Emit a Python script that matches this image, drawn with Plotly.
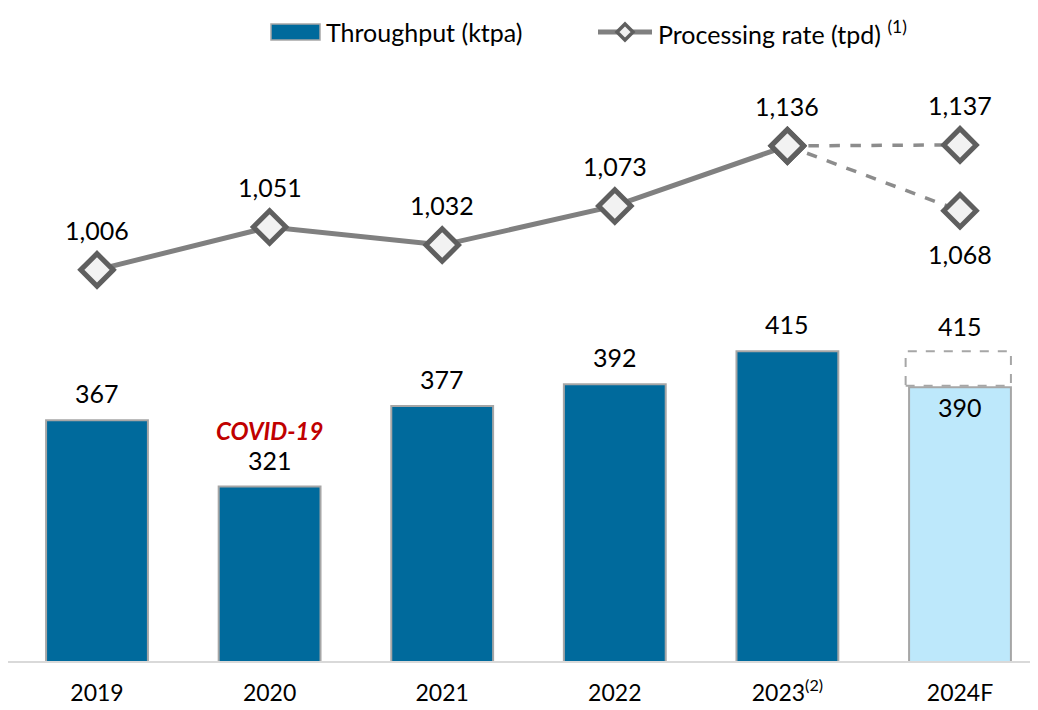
import plotly.graph_objects as go

years = ["2019", "2020", "2021", "2022", "2023<sup>(2)</sup>", "2024F"]
throughput = [367, 321, 377, 392, 415]
throughput_2024_base = 390
throughput_2024_high = 415
rate = [1006, 1051, 1032, 1073, 1136]
rate_2024_high = 1137
rate_2024_low = 1068

FONT = "Lato"
BAR_DARK = "#006a9c"
BAR_LIGHT = "#bde8fb"
BAR_EDGE = "#a6a6a6"
LINE_C = "#808080"
MK_EDGE = "#5f5f5f"
bar_w = 0.59
idx = list(range(len(years)))

fig = go.Figure()

fig.add_trace(go.Bar(
    x=idx, y=throughput + [throughput_2024_base],
    marker=dict(color=[BAR_DARK] * 5 + [BAR_LIGHT], line=dict(color=BAR_EDGE, width=2)),
    width=bar_w, name="Throughput (ktpa)", yaxis="y", showlegend=False,
))

mk = dict(symbol="diamond", size=25, color="#f2f2f2", line=dict(color=MK_EDGE, width=5))
fig.add_trace(go.Scatter(
    x=idx[:5], y=rate, mode="lines+markers", yaxis="y2",
    line=dict(color=LINE_C, width=5), marker=mk, showlegend=False,
))
for v in (rate_2024_high, rate_2024_low):
    fig.add_trace(go.Scatter(
        x=[idx[4], idx[5]], y=[rate[4], v], mode="lines", yaxis="y2",
        line=dict(color="#8c8c8c", width=3.5, dash="dash"), showlegend=False,
    ))
    fig.add_trace(go.Scatter(
        x=[idx[5]], y=[v], mode="markers", yaxis="y2", marker=mk, showlegend=False,
    ))
fig.add_trace(go.Scatter(
    x=[idx[4]], y=[rate[4]], mode="markers", yaxis="y2", marker=mk, showlegend=False,
))

# dashed box for the upper 2024F forecast
fig.add_shape(type="rect", xref="x", yref="y",
              x0=5 - bar_w / 2 - 0.02, x1=5 + bar_w / 2, y0=throughput_2024_base + 1, y1=throughput_2024_high,
              line=dict(color="#a6a6a6", width=2, dash="dash"), fillcolor="rgba(0,0,0,0)")

# custom legend, positioned in page pixels (page has an 8px body margin)
OFF = 8.0
FW, FH = 1030, 702
TOP, BOT = 60.0, 661.0
px = lambda x: (x - OFF) / FW
py = lambda y: (BOT - y) / (BOT - TOP)
fig.add_shape(type="rect", xref="paper", yref="paper", x0=px(271), x1=px(320), y0=py(40), y1=py(24),
              fillcolor=BAR_DARK, line=dict(color=BAR_EDGE, width=1.5))
fig.add_shape(type="line", xref="paper", yref="paper", x0=px(598), x1=px(652), y0=py(32), y1=py(32),
              line=dict(color=LINE_C, width=5))
d = 8
fig.add_shape(type="path", xref="paper", yref="paper",
              path=f"M {px(625-d)} {py(32)} L {px(625)} {py(32-d)} L {px(625+d)} {py(32)} L {px(625)} {py(32+d)} Z",
              fillcolor="#f2f2f2", line=dict(color=MK_EDGE, width=3.5))

ann = []
tf = dict(family=FONT, size=25, color="#000000")
ann.append(dict(xref="paper", yref="paper", x=px(324), y=py(32), xanchor="left", yanchor="middle",
                text="Throughput (ktpa)", showarrow=False, font=tf))
ann.append(dict(xref="paper", yref="paper", x=px(656), y=py(32), xanchor="left", yanchor="middle",
                text="Processing rate (tpd) <sup>(1)</sup>", showarrow=False, font=tf))
for i, v in enumerate(throughput):
    ann.append(dict(x=idx[i], y=v, yref="y", text=str(v), showarrow=False, yshift=27, font=tf))
ann.append(dict(x=idx[5], y=throughput_2024_high, yref="y", text=str(throughput_2024_high),
                showarrow=False, yshift=25, font=tf))
ann.append(dict(x=idx[5], y=throughput_2024_base, yref="y", text=str(throughput_2024_base),
                showarrow=False, yshift=-20, font=tf))
ann.append(dict(x=idx[1], y=throughput[1], yref="y", text="<b><i>COVID-19</i></b>",
                showarrow=False, yshift=56, font=dict(family=FONT, size=24, color="#c00000")))
for i, v in enumerate(rate):
    ann.append(dict(x=idx[i], y=v, yref="y2", text=f"{v:,}", showarrow=False, yshift=40, font=tf))
ann.append(dict(x=idx[5], y=rate_2024_high, yref="y2", text=f"{rate_2024_high:,}", showarrow=False, yshift=40, font=tf))
ann.append(dict(x=idx[5], y=rate_2024_low, yref="y2", text=f"{rate_2024_low:,}", showarrow=False, yshift=-43, font=tf))

fig.update_layout(
    width=FW, height=FH,
    margin=dict(l=0, r=0, t=int(TOP - OFF), b=int(FH - (BOT - OFF)), autoexpand=False),
    paper_bgcolor="white", plot_bgcolor="white",
    font=dict(family=FONT, size=22, color="#000000"),
    showlegend=False,
    xaxis=dict(tickmode="array", tickvals=idx, ticktext=years,
               range=[(OFF - 97) / 172.6, (OFF + FW - 97) / 172.6],
               showgrid=False, zeroline=False, automargin=False,
               showline=True, linecolor="#d9d9d9", linewidth=2,
               ticks="", tickfont=dict(family=FONT, size=23, color="#000000"), ticklabelstandoff=10),
    yaxis=dict(range=[200, 617], visible=False, showgrid=False, zeroline=False),
    yaxis2=dict(range=[596, 1226], overlaying="y", visible=False, showgrid=False, zeroline=False),
    annotations=ann,
)

fig.write_html("out.html")
